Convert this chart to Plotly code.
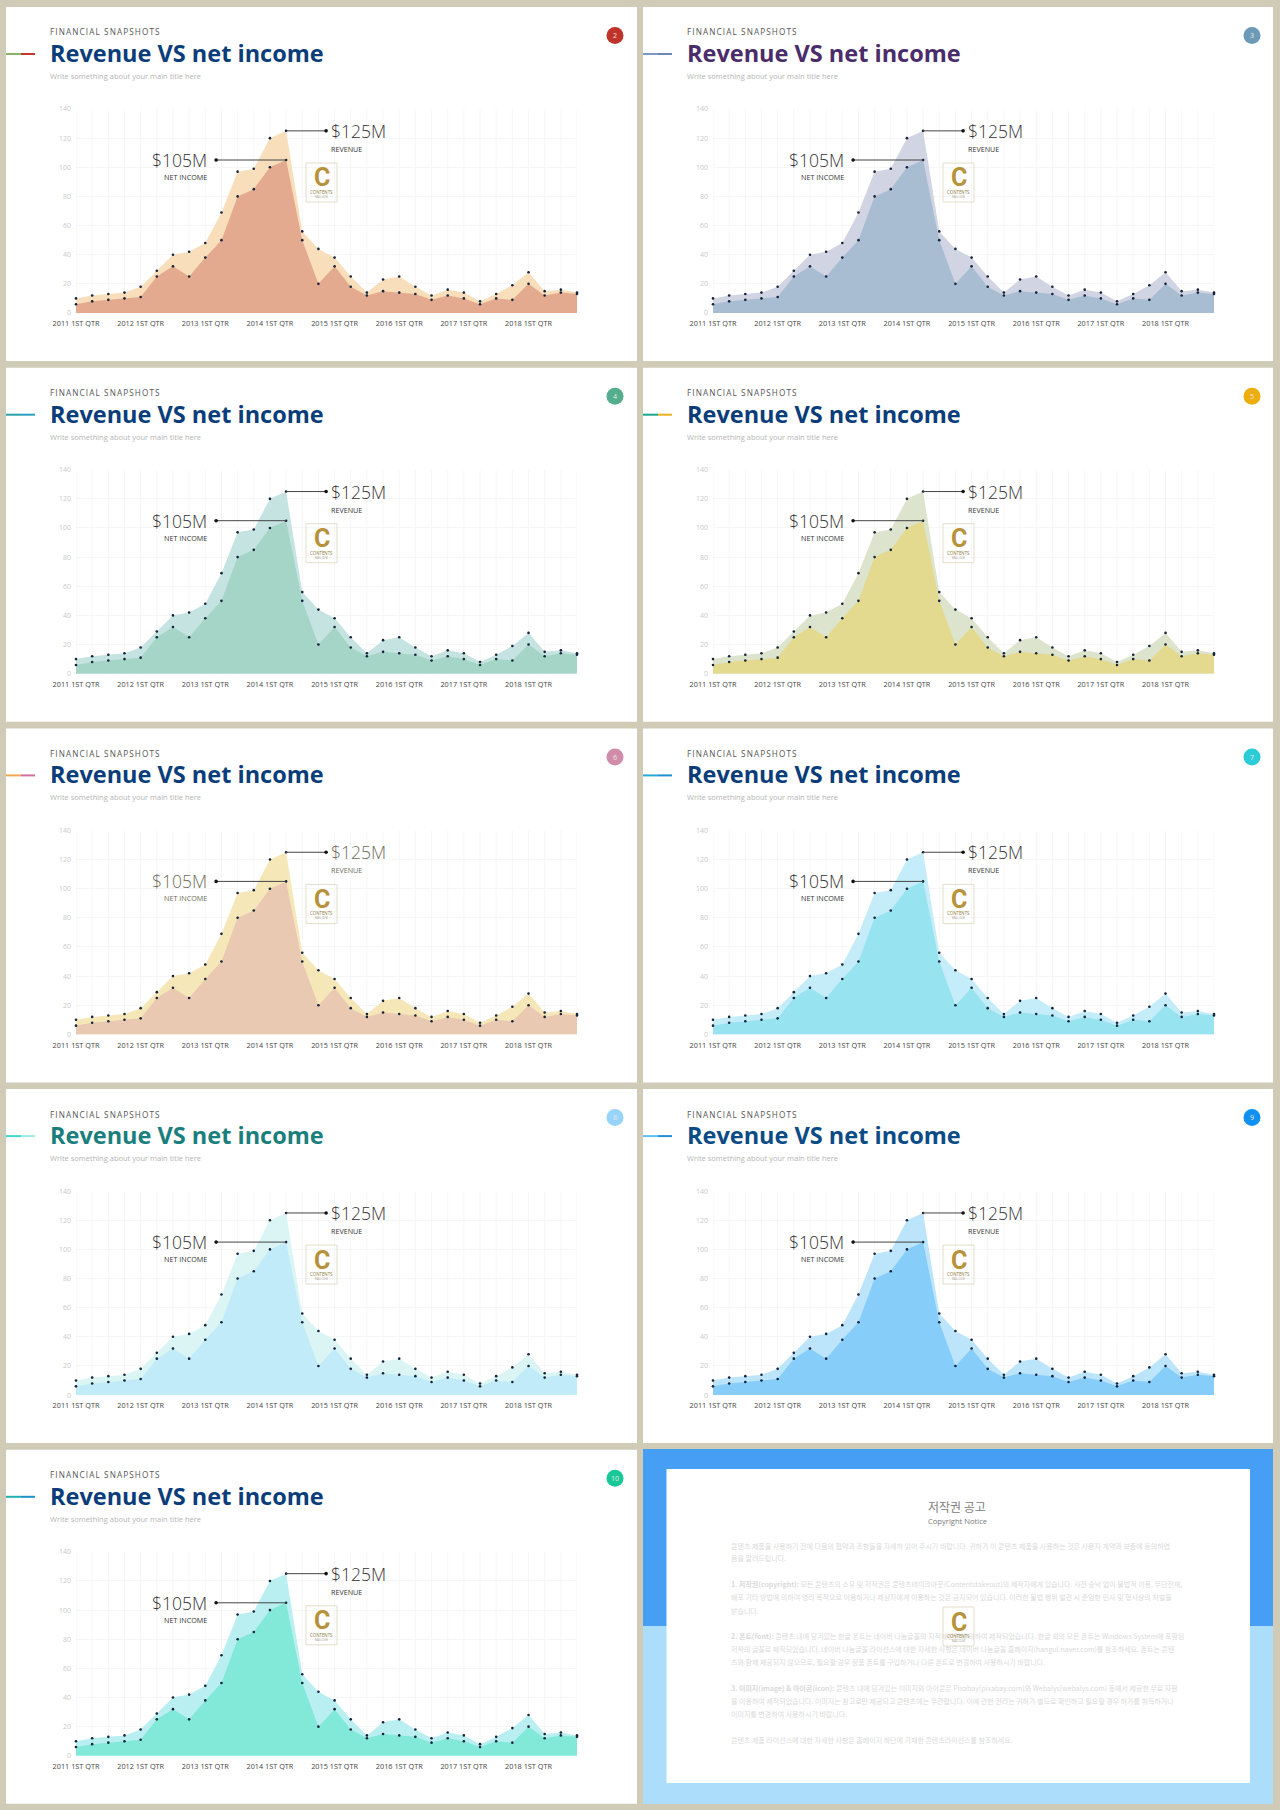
import plotly.graph_objects as go

quarters = list(range(32))
tick_vals = [0, 4, 8, 12, 16, 20, 24, 28]
tick_text = ['2011 1ST QTR', '2012 1ST QTR', '2013 1ST QTR', '2014 1ST QTR',
             '2015 1ST QTR', '2016 1ST QTR', '2017 1ST QTR', '2018 1ST QTR']
revenue = [10, 12, 13, 14, 18, 29, 40, 42, 48, 69, 97, 99, 120, 125, 56, 44,
           38, 25, 14, 23, 25, 18, 12, 16, 14, 8, 13, 19, 28, 15, 16, 14]
net_income = [6, 8, 9, 10, 11, 25, 32, 25, 38, 50, 80, 85, 100, 105, 50, 20,
              32, 18, 12, 15, 14, 13, 9, 12, 10, 6, 10, 9, 20, 12, 14, 13]

page_numbers = [2, 3, 4, 5, 6, 7, 8, 9, 10]
front_colors = ['#E4AA8F', '#A9BDD2', '#A5D5C6', '#E3D98F', '#E9C9B1', '#97E3F0', '#C1EBF9', '#86CDFA', '#82E8D8']
back_colors = ['#F8DEBA', '#D1D4E2', '#C5E3E1', '#DDE4CD', '#F6E7B9', '#C5EDF9', '#DBF5F5', '#BCE4FB', '#B9EFF1']
badge_colors = ['#C0332B', '#6B9AB8', '#52AE8C', '#EBAE0C', '#D08CA8', '#2ACCD8', '#96D4FA', '#1090F0', '#18C898']
title_colors = ['#0B3D7A', '#4A2C6B', '#0B3D7A', '#0B3D7A', '#0B3D7A', '#0B3D7A', '#1A7F7C', '#0B4C86', '#0B3D7A']
accent_left = ['#8AB36A', '#7A9CC4', '#2AA0A8', '#1FA58F', '#F0A850', '#2AA8D8', '#40D8D0', '#60C0F0', '#20B0B0']
accent_right = ['#C0392B', '#6F86B0', '#2AA0C0', '#EBB020', '#D070A0', '#2090D0', '#A0E8E8', '#2090D8', '#2090C8']
callout_colors = ['#333333'] * 4 + ['#6E6C58'] + ['#333333'] * 4

notice_lines = [
    '콘텐츠 제품을 사용하기 전에 다음의 협약과 조항들을 자세히 읽어 주시기 바랍니다. 귀하가 이 콘텐츠 제품을 사용하는 것은 사용자 계약과 보증에 동의하였',
    '음을 알려드립니다.',
    '<b>1. 저작권(copyright):</b> 모든 콘텐츠의 소유 및 저작권은 콘텐츠테이크아웃(Contentstakeout)의 제작자에게 있습니다. 사전 승낙 없이 불법적 이용, 무단전재,',
    '배포 기타 방법에 의하여 영리 목적으로 이용하거나 제삼자에게 이용하는 것은 금지되어 있습니다. 이러한 불법 행위 발견 시 준엄한 민사 및 형사상의 처벌을',
    '받습니다.',
    '<b>2. 폰트(font):</b> 콘텐츠 내에 담겨있는 한글 폰트는 네이버 나눔글꼴의 지적재산권에 의하여 제작되었습니다. 한글 외의 모든 폰트는 Windows System에 포함된',
    '저작의 글꼴로 제작되었습니다. 네이버 나눔글꼴 라이선스에 대한 자세한 사항은 네이버 나눔글꼴 홈페이지(hangul.naver.com)를 참조하세요. 폰트는 콘텐',
    '츠와 함께 제공되지 않으므로, 필요할 경우 정품 폰트를 구입하거나 다른 폰트로 변경하여 사용하시기 바랍니다.',
    '<b>3. 이미지(image) &amp; 아이콘(icon):</b> 콘텐츠 내에 담겨있는 이미지와 아이콘은 Pixabay(pixabay.com)와 Webalys(webalys.com) 등에서 제공한 무료 자원',
    '을 이용하여 제작되었습니다. 이미지는 참고로만 제공되고 콘텐츠에는 무관합니다. 이에 관한 권리는 귀하가 별도로 확인하고 필요할 경우 허가를 취득하거나',
    '이미지를 변경하여 사용하시기 바랍니다.',
    '콘텐츠 제품 라이선스에 대한 자세한 사항은 홈페이지 하단에 기재한 콘텐츠라이선스를 참조하세요.',
]
notice_ys = [1546, 1558, 1584, 1597, 1611, 1636, 1649, 1662, 1688, 1701, 1714, 1740]

W, H = 1280, 1810
BG = '#CFCBB7'
FONT = 'Open Sans'
KR = 'Noto Sans CJK KR'
COL_STEP = 637
ROW_STEP = 360.7

fig = go.Figure()
shapes = []
annotations = []
layout = dict()


def text(x, y, s, size, color, anchor='left', family=FONT, weight=None):
    annotations.append(dict(
        x=x / W, y=1 - y / H, xref='paper', yref='paper', text=s, showarrow=False,
        xanchor=anchor, yanchor='middle', align=anchor, borderpad=0, borderwidth=0,
        font=dict(size=size, color=color, family=family, weight=weight)))


def rect(x0, y0, x1, y1, fill, line=None, kind='rect', layer='below'):
    shapes.append(dict(
        type=kind, xref='paper', yref='paper', layer=layer,
        x0=x0 / W, x1=x1 / W, y0=1 - y0 / H, y1=1 - y1 / H,
        fillcolor=fill, line=dict(width=1 if line else 0, color=line)))


def logo(x0, y0):
    rect(x0, y0, x0 + 31, y0 + 39, None, '#E3DDCB', layer='above')
    text(x0 + 15.5, y0 + 15, '<b>C</b>', 25, '#B8923A', 'center', 'Roboto')
    text(x0 + 15.5, y0 + 29, 'CONTENTS', 4.4, '#8C7A3E', 'center')
    text(x0 + 15.5, y0 + 34, 'MAIL.COM', 2.6, '#A8A090', 'center')


for i, page in enumerate(page_numbers):
    dx = COL_STEP * (i % 2)
    dy = ROW_STEP * (i // 2)
    suffix = '' if i == 0 else str(i + 1)
    xname = 'x' + suffix
    yname = 'y' + suffix

    rect(6 + dx, 7 + dy, 637 + dx if i % 2 == 0 else 636 + dx, 361 + dy, 'white')

    # accent stub on the left edge
    rect(6 + dx, 53 + dy, 21 + dx, 55 + dy, accent_left[i])
    rect(21 + dx, 53 + dy, 35 + dx, 55 + dy, accent_right[i])
    rect(606.5 + dx, 27 + dy, 623.5 + dx, 44 + dy, badge_colors[i], kind='circle')
    text(615 + dx, 35.7 + dy, str(page), 7, '#F2E6E0', 'center')

    text(49.5 + dx, 32 + dy, 'FINANCIAL SNAPSHOTS', 8.2, '#555555')
    text(49.5 + dx, 53 + dy, '<b>Revenue VS net income</b>', 23.5, title_colors[i])
    text(49.5 + dx, 76 + dy, 'Write something about your main title here', 7.5, '#B5B5B5')

    layout['xaxis' + suffix] = dict(
        domain=[(76 + dx) / W, (577 + dx) / W], range=[0, 31], anchor=yname, automargin=False,
        tickmode='array', tickvals=tick_vals, ticktext=tick_text, ticklabelstandoff=5,
        showgrid=False, zeroline=False, showline=False, ticks='',
        tickfont=dict(size=7.3, color='#444444', family=FONT))
    layout['yaxis' + suffix] = dict(
        domain=[1 - (313 + dy) / H, 1 - (109 + dy) / H], range=[-0.01, 140], anchor=xname, automargin=False,
        tickmode='array', tickvals=[0, 20, 40, 60, 80, 100, 120, 140], ticklabelstandoff=4,
        showgrid=True, gridcolor='#F6F6F6', gridwidth=1, zeroline=False,
        showline=False, ticks='', tickfont=dict(size=7, color='#C9C9C9', family=FONT))

    for q in quarters:
        shapes.append(dict(type='line', xref=xname, yref=yname, x0=q, x1=q, y0=0, y1=140,
                           layer='below', line=dict(width=1, color='#F6F6F6')))

    for values, color in ((revenue, back_colors[i]), (net_income, front_colors[i])):
        fig.add_trace(go.Scatter(
            x=quarters, y=values, xaxis=xname, yaxis=yname, mode='lines+markers',
            fill='tozeroy', fillcolor=color, line=dict(width=0, color=color),
            marker=dict(size=2.6, color='#14233A'), cliponaxis=False,
            showlegend=False, hoverinfo='skip'))

    # callout leaders, anchored on the peak values
    for value, x1 in ((max(revenue), 40), (max(net_income), -70)):
        shapes.append(dict(type='line', xref=xname, yref=yname, xsizemode='pixel', xanchor=13,
                           x0=0, x1=x1, y0=value, y1=value, layer='above',
                           line=dict(width=1, color='#444444')))
        shapes.append(dict(type='circle', xref=xname, yref=yname, xsizemode='pixel', ysizemode='pixel',
                           xanchor=13, yanchor=value, x0=x1 - 1.8, x1=x1 + 1.8, y0=-1.8, y1=1.8,
                           layer='above', fillcolor='#111111', line=dict(width=0)))

    text(331.4 + dx, 131 + dy, '$125M', 17.5, callout_colors[i], weight=300)
    text(331.4 + dx, 149 + dy, 'REVENUE', 7.2, callout_colors[i])
    text(207 + dx, 160 + dy, '$105M', 17.5, callout_colors[i], 'right', weight=300)
    text(207 + dx, 177 + dy, 'NET INCOME', 7.2, callout_colors[i], 'right')
    logo(306 + dx, 163 + dy)

# copyright notice panel
rect(643, 1449, 1273, 1626, '#469FF5')
rect(643, 1626, 1273, 1804, '#ACDEFC')
rect(666.5, 1469, 1250, 1783, 'white')
text(956.5, 1506, '저작권 공고', 12, '#808080', 'center', KR)
text(957, 1521, 'Copyright Notice', 7.6, '#777777', 'center', FONT)
for line, y in zip(notice_lines, notice_ys):
    text(731, y, line, 7, '#DADADA', 'left', KR)
logo(943, 1607)

fig.update_layout(
    width=W, height=H, margin=dict(l=0, r=0, t=0, b=0), autosize=False,
    paper_bgcolor=BG, plot_bgcolor='rgba(0,0,0,0)', showlegend=False,
    shapes=shapes, annotations=annotations, **layout)

page_css = """document.body.style.margin='0';document.body.style.overflow='hidden';
var st=document.createElement('style');
st.textContent='.annotation-text[data-unformatted="FINANCIAL SNAPSHOTS"]{letter-spacing:1.1px}';
document.head.appendChild(st);"""
fig.write_html("out.html", config={'displayModeBar': False}, post_script=page_css)
